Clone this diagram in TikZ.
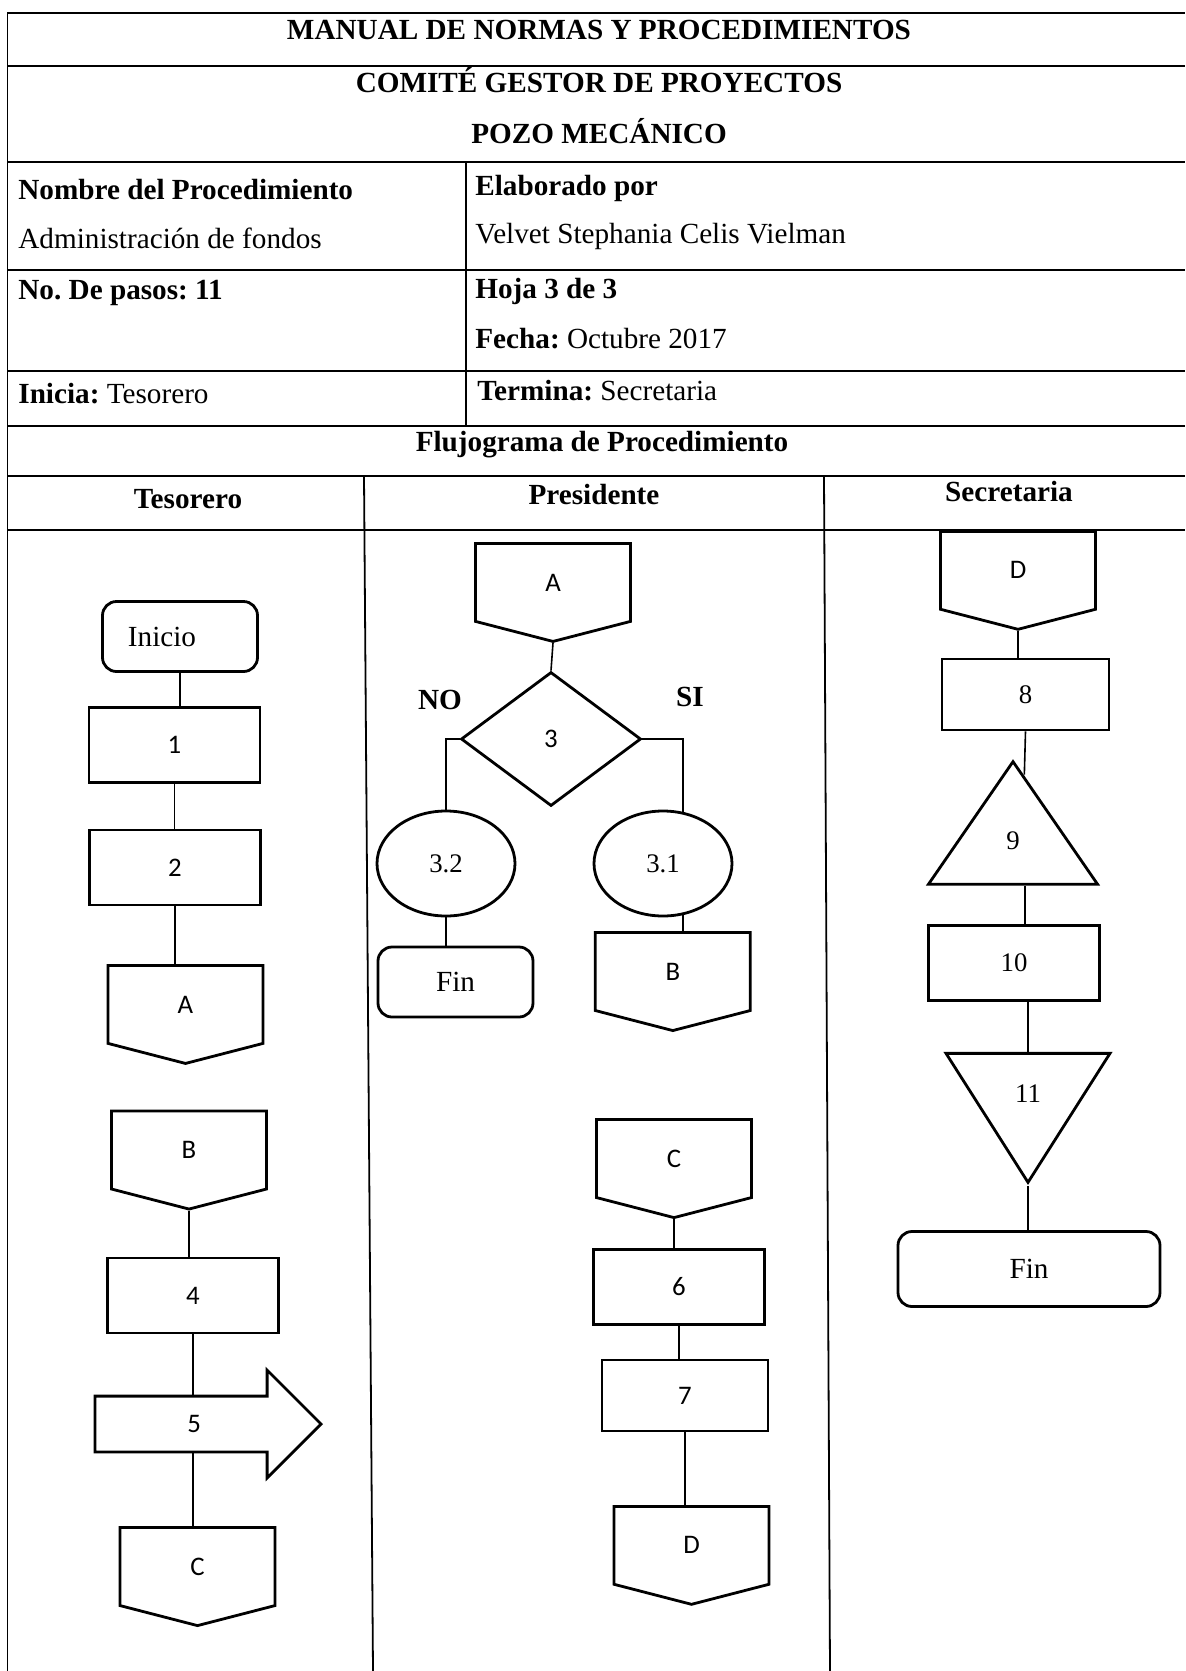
\documentclass[tikz,border=0pt]{standalone}
\usepackage{fontspec}
\setmainfont{Liberation Serif}
\newfontfamily\calibri{Carlito}
\usetikzlibrary{shapes.geometric,shapes.symbols,shapes.arrows,calc}
\frenchspacing

\newcommand\doce{\fontsize{14.6pt}{17.5pt}\selectfont}
\newcommand\once{\fontsize{13.4pt}{16pt}\selectfont}

\tikzset{
  tabla/.style={line width=0.9pt},
  enlace/.style={line width=0.8pt},
  celda/.style={anchor=base west, inner sep=0pt, font=\doce},
  titulo/.style={anchor=base, inner sep=0pt, font=\doce\bfseries},
  forma/.style={draw, line width=1.4pt, inner sep=0pt},
  paso/.style={forma, rectangle, font=\calibri\once, minimum width=85.5pt, minimum height=37.5pt},
  terminal/.style={forma, rectangle, rounded corners=7pt, font=\doce, minimum width=77.5pt, minimum height=35pt},
  conector/.style={forma, signal, signal to=south, signal pointer angle=151, font=\calibri\once, minimum width=77.5pt, minimum height=40pt},
  decision/.style={forma, diamond, font=\calibri\once, minimum width=90pt, minimum height=67pt},
  ovalo/.style={forma, ellipse, font=\once, minimum width=69pt, minimum height=52.5pt},
  triangulo/.style={forma, isosceles triangle, isosceles triangle stretches, font=\once},
  flecha/.style={forma, single arrow, single arrow tip angle=90, single arrow head extend=13pt, font=\calibri\once, text height=17.5pt, text depth=9pt, minimum width=53pt, minimum height=113pt},
  rama/.style={inner sep=0pt, font=\doce\bfseries}
}

\begin{document}
\begin{tikzpicture}[x=0.5pt, y=-0.5pt]
\useasboundingbox (0,0) rectangle (1185,1671);

\draw[tabla] (7.5,1671) -- (7.5,13) -- (1185,13);
\draw[tabla] (7.5,66) -- (1185,66);
\draw[tabla] (7.5,162) -- (1185,162);
\draw[tabla] (7.5,270) -- (1185,270);
\draw[tabla] (7.5,371) -- (1185,371);
\draw[tabla] (7.5,426) -- (1185,426);
\draw[tabla] (7.5,476) -- (1185,476);
\draw[tabla] (7.5,530) -- (1185,530);
\draw[tabla] (466,162) -- (466,426);
\draw[tabla] (364,476) -- (373,1671);
\draw[tabla] (824,476) -- (830,1671);

\node[titulo] at (599, 39) (manual) {MANUAL DE NORMAS Y PROCEDIMIENTOS};
\node[titulo] at (599, 92) (comite) {COMITÉ GESTOR DE PROYECTOS};
\node[titulo] at (599, 143) (pozo) {POZO MECÁNICO};
\node[celda] at (18, 199) (nombre) {\textbf{Nombre del Procedimiento}};
\node[celda] at (18, 248) (proc) {Administración de fondos};
\node[celda] at (475, 195) (elab) {\textbf{Elaborado por}};
\node[celda] at (475, 243) (autor) {Velvet Stephania Celis Vielman};
\node[celda] at (18, 299) (pasos) {\textbf{No. De pasos: 11}};
\node[celda] at (475, 298) (hoja) {\textbf{Hoja 3 de 3}};
\node[celda] at (475, 348) (fecha) {\textbf{Fecha:} Octubre 2017};
\node[celda] at (18, 403) (inicia) {\textbf{Inicia:} Tesorero};
\node[celda] at (477, 400) (termina) {\textbf{Termina:} Secretaria};
\node[titulo] at (602, 451) (flujo) {Flujograma de Procedimiento};
\node[titulo] at (188, 508) (tes) {Tesorero};
\node[titulo] at (594, 504) (pres) {Presidente};
\node[titulo] at (1009, 501) (sec) {Secretaria};

\node[terminal] at (180, 636.5) (ini) {\hspace*{-18pt}Inicio};
\node[paso] at (174.5, 745) (n1) {1};
\node[paso] at (175, 867.5) (n2) {2};
\node[conector, anchor=north] at (185.5, 964) (ca1) {A};
\node[conector, anchor=north] at (189, 1109.5) (cb1) {B};
\node[paso] at (193, 1295.5) (n4) {4};
\node[flecha, anchor=tip] at (323, 1424) (n5) {5};
\node[conector, anchor=north] at (197.5, 1526) (cc1) {C};

\node[conector, anchor=north] at (553, 542) (ca2) {A};
\node[decision] at (551, 739) (d3) {3};
\node[rama] at (440, 700) (no) {NO};
\node[rama] at (690, 697) (si) {SI};
\node[ovalo] at (446, 863.5) (s32) {3.2};
\node[ovalo] at (663, 863.5) (s31) {3.1};
\node[terminal] at (455.5, 982) (fin1) {Fin};
\node[conector, anchor=north] at (672.8, 931) (cb2) {B};
\node[conector, anchor=north] at (674, 1118) (cc2) {C};
\node[paso] at (679, 1287) (n6) {6};
\node[paso, minimum width=83pt, minimum height=35.5pt] at (685, 1395.5) (n7) {7};
\node[conector, anchor=north] at (691.5, 1505) (cd2) {D};

\node[conector, anchor=north] at (1018, 530) (cd3) {D};
\node[paso, font=\once, minimum width=83.5pt, minimum height=35.5pt] at (1025.5, 694.5) (n8) {8};
\node[triangulo, shape border rotate=90, minimum width=84.5pt, minimum height=61.25pt, anchor=apex] at (1013, 758) (t9) {9};
\node[paso, font=\once] at (1014, 963) (n10) {10};
\node[triangulo, shape border rotate=270, minimum width=82pt, minimum height=64.5pt, anchor=apex] at (1028, 1186) (t11) {11};
\node[terminal, minimum width=131pt, minimum height=37.5pt] at (1029, 1269) (fin2) {Fin};

\draw[enlace] (ini.south) -- (ini.south |- n1.north);
\draw[enlace] (n1.south) -- (n1.south |- n2.north);
\draw[enlace] (n2.south) -- (n2.south |- ca1.north);
\draw[enlace] (cb1.south) -- (cb1.south |- n4.north);
\draw[enlace] (n4.south) -- (n4.south |- n5.north);
\draw[enlace] (n4.south |- n5.south) -- (n4.south |- cc1.north);

\draw[enlace] (ca2.south) -- (d3.north);
\draw[enlace] (d3.west) -| (s32.north);
\draw[enlace] (d3.east) -| (s31.69);
\draw[enlace] (s32.south) -- (s32.south |- fin1.north);
\draw[enlace] (s31.-69) -- (s31.-69 |- cb2.north);
\draw[enlace] (cc2.south) -- (cc2.south |- n6.north);
\draw[enlace] (n6.south) -- (n6.south |- n7.north);
\draw[enlace] (n7.south) -- (n7.south |- cd2.north);

\draw[enlace] (cd3.south) -- (cd3.south |- n8.north);
\draw[enlace] (n8.south) -- ($(t9.apex)!0.13!(t9.right corner)$);
\draw[enlace] ([xshift=6pt]t9.lower side) -- ([xshift=6pt]t9.lower side |- n10.north);
\draw[enlace] ([xshift=7pt]n10.south) -- ([xshift=7pt]n10.south |- t11.lower side);
\draw[enlace] (t11.apex) -- (t11.apex |- fin2.north);
\end{tikzpicture}
\end{document}
